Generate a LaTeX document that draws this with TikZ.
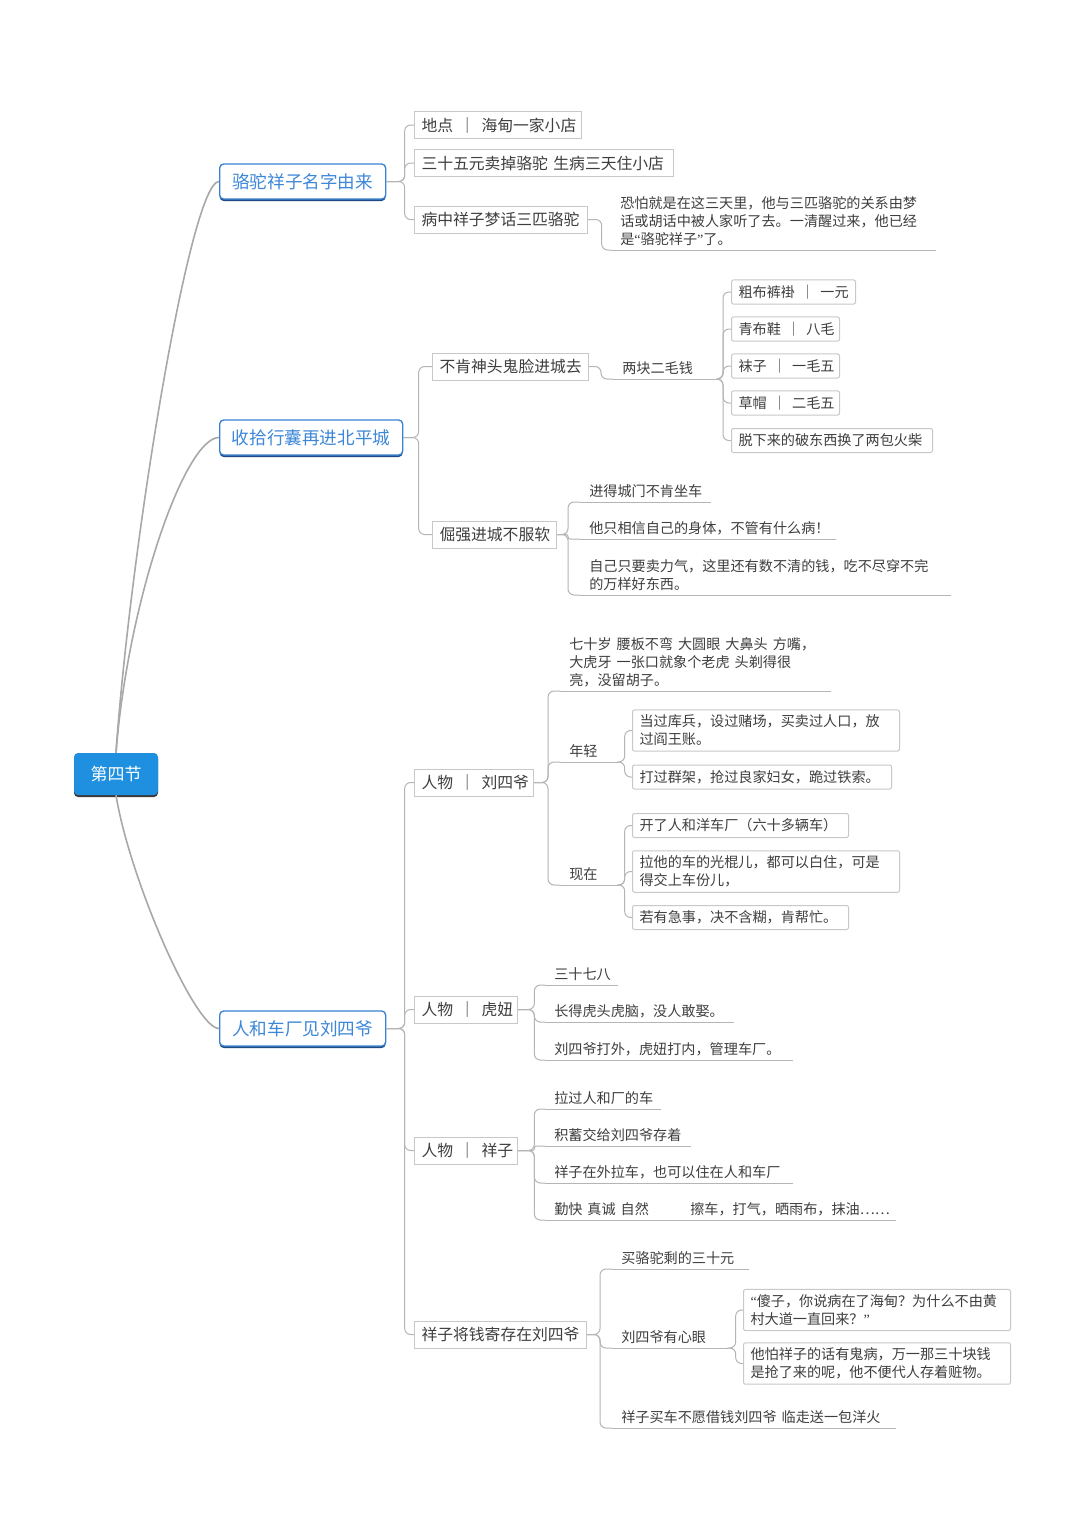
\documentclass[tikz,border=0pt]{standalone}
\usepackage{fontspec}
\setmainfont{Noto Sans CJK SC}
\newfontfamily\qfont{Liberation Serif}
\usetikzlibrary{shadows}
\setlength\parindent{0pt}
\definecolor{rootfill}{HTML}{1F8FE0}
\definecolor{rootshadow}{HTML}{3A3A3A}
\definecolor{mainborder}{HTML}{3A82D2}
\definecolor{maintext}{HTML}{3D87D8}
\definecolor{mainshadow}{HTML}{1E4B85}
\definecolor{boxgray}{HTML}{C8C8C8}
\definecolor{linegray}{HTML}{B5B5B5}
\definecolor{rootline}{HTML}{A8A8A8}
\definecolor{txt}{HTML}{3E3E3E}
\newcommand\mysep{\kern.4em｜\kern.4em}
\newcommand\wgap{\kern.35em}
\newcommand\myoq{{\qfont “}}
\newcommand\mycq{{\qfont ”}}
\tikzset{
  bw/.code={\pgfmathsetlengthmacro\nodetw{0.75*#1-10.5}\edef\tmpk{\noexpand\pgfkeysalso{text width=\nodetw}}\tmpk},
  uw/.code={\pgfmathsetlengthmacro\nodetw{0.75*#1-13.5}\edef\tmpk{\noexpand\pgfkeysalso{text width=\nodetw}}\tmpk},
  bigf/.style={font=\fontsize{11.85pt}{14pt}\selectfont},
  smallf/.style={font=\fontsize{10.6pt}{13.5pt}\selectfont},
  lvtwo/.style={bigf, text=txt, align=left, draw=boxgray, line width=0.75pt, fill=white,
    inner xsep=5.25pt, inner ysep=2pt, minimum height=20.25pt, anchor=west},
  lvthree/.style={smallf, text=txt, align=left, draw=boxgray, line width=0.75pt, fill=white,
    rounded corners=1.5pt, inner xsep=5.25pt, inner ysep=3.75pt, minimum height=18pt, anchor=west},
  uline/.style={smallf, text=txt, align=left, inner xsep=6.75pt, inner ysep=3pt, anchor=south west,
    append after command={(\tikzlastnode.south west) edge[draw=linegray, line width=0.75pt] (\tikzlastnode.south east)}},
  conn/.style={draw=linegray, line width=0.75pt, rounded corners=4.5pt},
  rootconn/.style={draw=rootline, line width=1.2pt},
  mainnode/.style={draw=mainborder, line width=1pt, fill=white, rounded corners=3pt, text=maintext,
    font=\fontsize{13.2pt}{16pt}\selectfont, minimum height=26.25pt, anchor=west, inner xsep=0pt,
    general shadow={fill=mainshadow, shadow yshift=-1.5pt}},
  rootnode/.style={fill=rootfill, rounded corners=3pt, text=white,
    font=\fontsize{12.75pt}{15pt}\selectfont, minimum width=63pt, minimum height=31.5pt,
    general shadow={fill=rootshadow, shadow yshift=-1.5pt}},
}
\begin{document}
\begin{tikzpicture}[x=0.75pt, y=-0.75pt]
\useasboundingbox (0,0) rectangle (1080,1535);
\fill[white] (0,0) rectangle (1080,1535);

% root and main topics
\node[rootnode] (root) at (116,774) {第四节};
\node[mainnode, minimum width=124.5pt] (m1) at (219,181.5) {骆驼祥子名字由来};
\node[mainnode, minimum width=137.25pt] (m2) at (219,437.5) {收拾行囊再进北平城};
\node[mainnode, minimum width=124.5pt] (m3) at (219,1028.5) {人和车厂见刘四爷};

% branch 1
\node[lvtwo, bw=167] (a1) at (414,125) {地点\mysep 海甸一家小店};
\node[lvtwo, bw=259] (a2) at (414,163) {三十五元卖掉骆驼\wgap 生病三天住小店};
\node[lvtwo, bw=173] (a3) at (414,219.5) {病中祥子梦话三匹骆驼};
\node[uline, uw=324] (a4) at (611,250) {恐怕就是在这三天里，他与三匹骆驼的关系由梦\\话或胡话中被人家听了去。一清醒过来，他已经\\是\myoq 骆驼祥子\mycq 了。};

% branch 2
\node[lvtwo, bw=156] (b1) at (432,366.5) {不肯神头鬼脸进城去};
\node[lvtwo, bw=124] (b2) at (432,534.5) {倔强进城不服软};
\node[uline, uw=104] (b11) at (613,379) {两块二毛钱};
\node[lvthree, bw=124] (c1) at (731,292) {粗布裤褂\mysep 一元};
\node[lvthree, bw=108] (c2) at (731,329) {青布鞋\mysep 八毛};
\node[lvthree, bw=108] (c3) at (731,366) {袜子\mysep 一毛五};
\node[lvthree, bw=108] (c4) at (731,403) {草帽\mysep 二毛五};
\node[lvthree, bw=201] (c5) at (731,440.5) {脱下来的破东西换了两包火柴};
\node[uline, uw=130] (d1) at (580,502) {进得城门不肯坐车};
\node[uline, uw=255] (d2) at (580,539) {他只相信自己的身体，不管有什么病！};
\node[uline, uw=370] (d3) at (580,595) {自己只要卖力气，这里还有数不清的钱，吃不尽穿不完\\的万样好东西。};

% branch 3
\node[lvtwo, bw=119] (e1) at (414,782.5) {人物\mysep 刘四爷};
\node[lvtwo, bw=103] (e2) at (414,1009.5) {人物\mysep 虎妞};
\node[lvtwo, bw=103] (e3) at (414,1150.5) {人物\mysep 祥子};
\node[lvtwo, bw=172] (e4) at (414,1334.5) {祥子将钱寄存在刘四爷};

\node[uline, uw=270] (f1) at (560,691) {七十岁\wgap 腰板不弯\wgap 大圆眼\wgap 大鼻头\wgap 方嘴，\\大虎牙\wgap 一张口就象个老虎\wgap 头剃得很\\亮，没留胡子。};
\node[uline, uw=57] (f2) at (560,762) {年轻};
\node[uline, uw=57] (f3) at (560,885) {现在};
\node[lvthree, bw=267] (g1) at (632,730.5) {当过库兵，设过赌场，买卖过人口，放\\过阎王账。};
\node[lvthree, bw=259] (g2) at (632,777) {打过群架，抢过良家妇女，跪过铁索。};
\node[lvthree, bw=216] (g3) at (632,825.5) {开了人和洋车厂（六十多辆车）};
\node[lvthree, bw=267] (g4) at (632,871.5) {拉他的车的光棍儿，都可以白住，可是\\得交上车份儿，};
\node[lvthree, bw=216] (g5) at (632,917.5) {若有急事，决不含糊，肯帮忙。};

\node[uline, uw=72] (h1) at (545,985) {三十七八};
\node[uline, uw=188] (h2) at (545,1022) {长得虎头虎脑，没人敢娶。};
\node[uline, uw=247] (h3) at (545,1060) {刘四爷打外，虎妞打内，管理车厂。};

\node[uline, uw=115] (i1) at (545,1109) {拉过人和厂的车};
\node[uline, uw=145] (i2) at (545,1146) {积蓄交给刘四爷存着};
\node[uline, uw=247] (i3) at (545,1183) {祥子在外拉车，也可以住在人和车厂};
\node[uline, uw=133] (i4) at (545,1220) {勤快\wgap 真诚\wgap 自然};
\node[uline, uw=214] (i5) at (681,1220) {擦车，打气，晒雨布，抹油……};

\node[uline, uw=136] (j1) at (612,1269) {买骆驼剩的三十元};
\node[uline, uw=115] (j2) at (612,1348) {刘四爷有心眼};
\node[uline, uw=283] (j3) at (612,1428) {祥子买车不愿借钱刘四爷\wgap 临走送一包洋火};
\node[lvthree, bw=267] (k1) at (743,1310) {\myoq 傻子，你说病在了海甸？为什么不由黄\\村大道一直回来？\mycq};
\node[lvthree, bw=267] (k2) at (743,1363.5) {他怕祥子的话有鬼病，万一那三十块钱\\是抢了来的呢，他不便代人存着赃物。};

% root connectors
\draw[rootconn] (root.north) .. controls (130,550) and (190,181.5) .. (m1.west);
\draw[rootconn] (root.north) .. controls (128,600) and (185,437.5) .. (m2.west);
\draw[rootconn] (root.south) .. controls (130,880) and (195,1028.5) .. (m3.west);

% branch 1 connectors
\foreach \c in {a1,a2,a3}
  \draw[conn] (m1.east) -| ([xshift=-7pt]\c.west) -- (\c.west);
\draw[conn] (a3.east) -| ([xshift=-7pt]a4.south west) -- (a4.south west);

% branch 2 connectors
\foreach \c in {b1,b2}
  \draw[conn] (m2.east) -| ([xshift=-10pt]\c.west) -- (\c.west);
\draw[conn] (b1.east) -| ([xshift=-9pt]b11.south west) -- (b11.south west);
\foreach \c in {c1,c2,c3,c4,c5}
  \draw[conn] (b11.south east) -| ([xshift=-6pt]\c.west) -- (\c.west);
\foreach \c in {d1,d3}
  \draw[conn] (b2.east) -| ([xshift=-9pt]\c.south west) -- (\c.south west);
\draw[conn, rounded corners=1.5pt] (b2.east) -| ([xshift=-9pt]d2.south west) -- (d2.south west);

% branch 3 connectors
\foreach \c in {e1,e2,e3,e4}
  \draw[conn] (m3.east) -| ([xshift=-7pt]\c.west) -- (\c.west);
\foreach \c in {f1,f2,f3}
  \draw[conn] (e1.east) -| ([xshift=-9pt]\c.south west) -- (\c.south west);
\foreach \c in {g1,g2}
  \draw[conn] (f2.south east) -| ([xshift=-5.5pt]\c.west) -- (\c.west);
\foreach \c in {g3,g4,g5}
  \draw[conn] (f3.south east) -| ([xshift=-5.5pt]\c.west) -- (\c.west);
\foreach \c in {h1,h2,h3}
  \draw[conn] (e2.east) -| ([xshift=-8pt]\c.south west) -- (\c.south west);
\foreach \c in {i1,i3,i4}
  \draw[conn] (e3.east) -| ([xshift=-8pt]\c.south west) -- (\c.south west);
\draw[conn, rounded corners=1.5pt] (e3.east) -| ([xshift=-8pt]i2.south west) -- (i2.south west);
\draw[conn] (i4.south east) -- (i5.south west);
\foreach \c in {j1,j2,j3}
  \draw[conn] (e4.east) -| ([xshift=-9pt]\c.south west) -- (\c.south west);
\foreach \c in {k1,k2}
  \draw[conn] (j2.south east) -| ([xshift=-5.5pt]\c.west) -- (\c.west);
\end{tikzpicture}
\end{document}
